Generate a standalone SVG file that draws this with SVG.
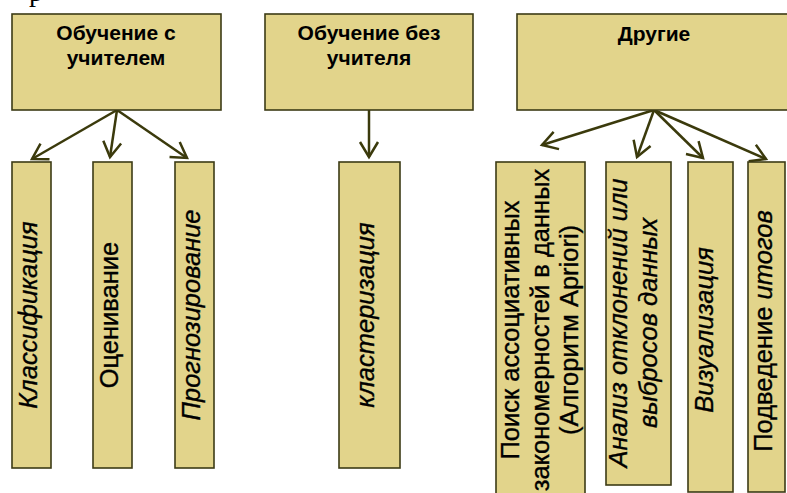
<svg xmlns="http://www.w3.org/2000/svg" width="787" height="493" viewBox="0 0 787 493">
  <defs>
    <marker id="vhead" markerUnits="userSpaceOnUse" markerWidth="20" markerHeight="22" viewBox="-2 -11 20 22" refX="15" refY="0" orient="auto">
      <path d="M0,-9 L15,0 L0,9" fill="none" stroke="#3b3a0c" stroke-width="2.5" stroke-linejoin="miter"/>
    </marker>
  </defs>
  <style>
    .box { fill: #e2d48b; stroke: #3c3b16; stroke-width: 1.6; }
    .head { font-family: "Liberation Sans", Arial, sans-serif; font-size: 21px; font-weight: bold; fill: #000; text-anchor: middle; }
    .vt { font-family: "Liberation Sans", Arial, sans-serif; font-size: 25.5px; fill: #000; text-anchor: middle; stroke: #000; stroke-width: 0.35; }
    .it { font-style: italic; }
    .link { fill: none; stroke: #3b3a0c; stroke-width: 2.5; marker-end: url(#vhead); }
  </style>
  <rect width="787" height="493" fill="#ffffff"/>

  <!-- stray descender of a line above the frame -->
  <text x="29" y="1" font-family="Liberation Serif, serif" font-size="28">р</text>

  <!-- connectors -->
  <g id="connectors">
    <line class="link" x1="117" y1="110" x2="32" y2="159"/>
    <line class="link" x1="117" y1="110" x2="110" y2="157"/>
    <line class="link" x1="117" y1="110" x2="187" y2="158"/>
    <line class="link" x1="369" y1="110" x2="369" y2="157"/>
    <line class="link" x1="654" y1="110" x2="542" y2="145"/>
    <line class="link" x1="654" y1="110" x2="637" y2="157"/>
    <line class="link" x1="654" y1="110" x2="703" y2="158"/>
    <line class="link" x1="654" y1="110" x2="766" y2="159"/>
  </g>

  <!-- top level groups -->
  <g id="supervised">
    <rect class="box" x="12" y="14" width="209" height="96"/>
    <text class="head" x="116" y="40">Обучение с</text>
    <text class="head" x="116" y="65">учителем</text>
  </g>
  <g id="unsupervised">
    <rect class="box" x="265" y="14" width="208" height="96"/>
    <text class="head" x="369" y="40">Обучение без</text>
    <text class="head" x="369" y="65">учителя</text>
  </g>
  <g id="other">
    <rect class="box" x="517" y="14" width="280" height="96"/>
    <text class="head" x="654" y="41">Другие</text>
  </g>

  <!-- tasks -->
  <g id="classification">
    <rect class="box" x="12" y="162" width="39" height="306"/>
    <text class="vt it" transform="translate(31.5,315) rotate(-90)" x="0" y="5">Классификация</text>
  </g>
  <g id="estimation">
    <rect class="box" x="93" y="162" width="39" height="306"/>
    <text class="vt" transform="translate(112.5,315) rotate(-90)" x="0" y="5">Оценивание</text>
  </g>
  <g id="forecasting">
    <rect class="box" x="175" y="162" width="39" height="306"/>
    <text class="vt it" transform="translate(194.5,315) rotate(-90)" x="0" y="5">Прогнозирование</text>
  </g>
  <g id="clustering">
    <rect class="box" x="339" y="162" width="61" height="306"/>
    <text class="vt it" transform="translate(369.5,315) rotate(-90)" x="0" y="4">кластеризация</text>
  </g>
  <g id="association">
    <rect class="box" x="496" y="162" width="89" height="340"/>
    <text class="vt" transform="translate(540.5,330) rotate(-90)" x="0" y="-21.5">Поиск ассоциативных</text>
    <text class="vt" transform="translate(540.5,330) rotate(-90)" x="0" y="8">закономерностей в данных</text>
    <text class="vt" transform="translate(540.5,330) rotate(-90)" x="0" y="37.5">(Алгоритм Apriori)</text>
  </g>
  <g id="outliers">
    <rect class="box" x="606" y="162" width="65" height="323"/>
    <text class="vt it" transform="translate(638.5,323) rotate(-90)" x="0" y="-11.5">Анализ отклонений или</text>
    <text class="vt it" transform="translate(638.5,323) rotate(-90)" x="0" y="18.5">выбросов данных</text>
  </g>
  <g id="visualization">
    <rect class="box" x="688" y="162" width="45" height="330"/>
    <text class="vt it" transform="translate(710.5,330) rotate(-90)" x="0" y="2">Визуализация</text>
  </g>
  <g id="summary">
    <rect class="box" x="748" y="162" width="37" height="330"/>
    <text class="vt" transform="translate(766.5,331) rotate(-90)" x="0" y="5">Подведение <tspan class="it">итогов</tspan></text>
  </g>
</svg>
